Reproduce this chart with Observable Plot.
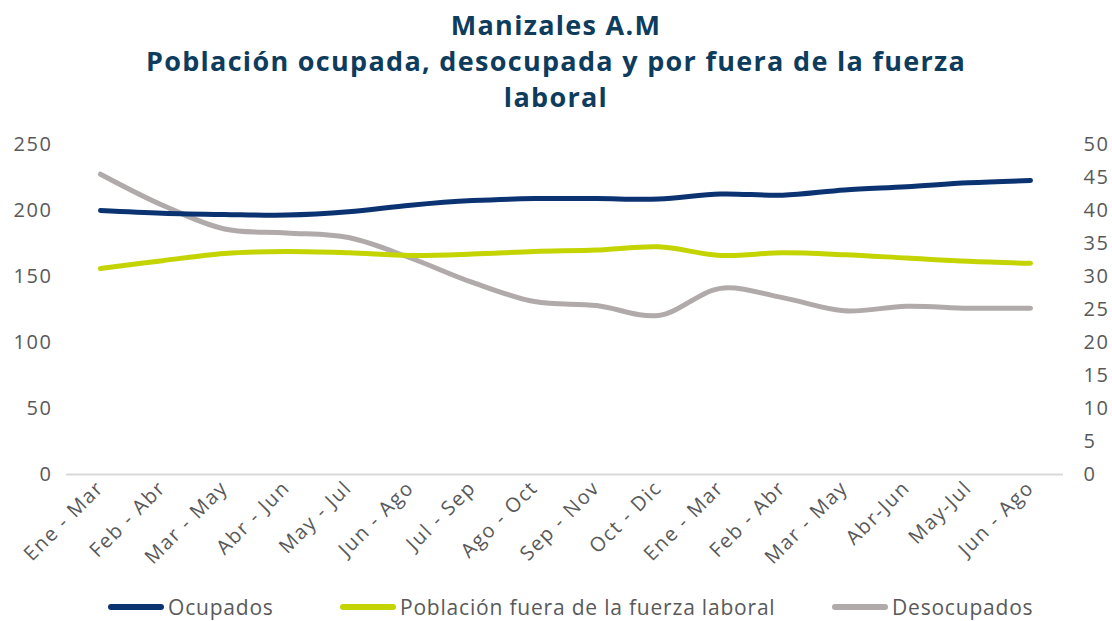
<!DOCTYPE html>
<html>
<head>
<meta charset="utf-8">
<script src="https://cdn.jsdelivr.net/npm/d3@7"></script>
<script src="https://cdn.jsdelivr.net/npm/@observablehq/plot@0.6"></script>
<style>
  body { margin:0; background:#fff; width:1112px; height:621px; overflow:hidden; position:relative; font-family:"Open Sans", sans-serif; }
  #title { position:absolute; top:7px; left:0; width:1112px; text-align:center; font-weight:700; font-size:27px; letter-spacing:1.3px; line-height:36px; color:#0e3c5d; }
  #chart { position:absolute; top:118px; left:0; }
  .leg { position:absolute; top:594px; font-size:21px; letter-spacing:0.8px; color:#595959; display:flex; align-items:center; white-space:nowrap; line-height:26px; }
  .sw { display:inline-block; width:56px; height:6px; border-radius:3px; margin-right:4px; }
</style>
</head>
<body>
<div id="title">Manizales A.M<br>Población ocupada, desocupada y por fuera de la fuerza<br>laboral</div>
<div id="chart"></div>
<div id="legend"></div>
<script>
const categories = ["Ene - Mar","Feb - Abr","Mar - May","Abr - Jun","May - Jul","Jun - Ago","Jul - Sep","Ago - Oct","Sep - Nov","Oct - Dic","Ene - Mar","Feb - Abr","Mar - May","Abr-Jun","May-Jul","Jun - Ago"];
const ocupados = [200, 198, 197, 196.5, 199, 204, 207.5, 209, 209, 208.7, 212.5, 211.6, 215.6, 218, 221, 222.7];
const fueraFuerza = [156, 162, 167.5, 169, 168, 166, 167, 169, 170, 172.5, 166, 168, 166.5, 164, 161.5, 160];
const desocupados = [45.5, 40.8, 37.2, 36.6, 35.9, 32.8, 29.1, 26.2, 25.6, 24.1, 28.2, 26.8, 24.8, 25.5, 25.2, 25.2];
const leftTicks = [0, 50, 100, 150, 200, 250];
const rightTicks = [0, 5, 10, 15, 20, 25, 30, 35, 40, 45, 50];
const seriesNames = ["Ocupados", "Población fuera de la fuerza laboral", "Desocupados"];
const colors = ["#0b3372", "#c3d400", "#b0abaa"];

const ratio = 250 / 50;
const toRows = (arr, k = 1) => arr.map((v, i) => ({i, v: v * k}));

const chart = Plot.plot({
  width: 1112,
  height: 472,
  marginTop: 26,
  marginBottom: 116,
  marginLeft: 66,
  marginRight: 49,
  style: {fontFamily: "'Open Sans', sans-serif", fontSize: "20px", letterSpacing: "1.6px", color: "#595959", background: "transparent"},
  x: {type: "point", domain: d3.range(categories.length), padding: 0.5},
  y: {domain: [0, 250]},
  marks: [
    Plot.ruleY([0], {stroke: "#d9d9d9", strokeWidth: 2}),
    Plot.axisY({anchor: "left", ticks: leftTicks, tickSize: 0, tickPadding: 14, label: null, fontSize: 20}),
    Plot.axisY({anchor: "right", ticks: rightTicks.map(d => d * ratio), tickFormat: d => d / ratio, tickSize: 0, tickPadding: 20, label: null, fontSize: 20}),
    Plot.axisX({tickRotate: -45, tickFormat: i => categories[i], tickSize: 0, tickPadding: 10, label: null, fontSize: 20}),
    Plot.line(toRows(desocupados, ratio), {x: "i", y: "v", stroke: colors[2], strokeWidth: 5, curve: "catmull-rom"}),
    Plot.line(toRows(fueraFuerza), {x: "i", y: "v", stroke: colors[1], strokeWidth: 5, curve: "catmull-rom"}),
    Plot.line(toRows(ocupados), {x: "i", y: "v", stroke: colors[0], strokeWidth: 5, curve: "catmull-rom"})
  ]
});
document.getElementById("chart").appendChild(chart);

const legPos = [108, 340, 832];
const legend = document.getElementById("legend");
seriesNames.forEach((n, k) => {
  const d = document.createElement("div");
  d.className = "leg";
  d.style.left = legPos[k] + "px";
  d.innerHTML = `<span class="sw" style="background:${colors[k]}"></span>${n}`;
  legend.appendChild(d);
});
</script>
</body>
</html>
